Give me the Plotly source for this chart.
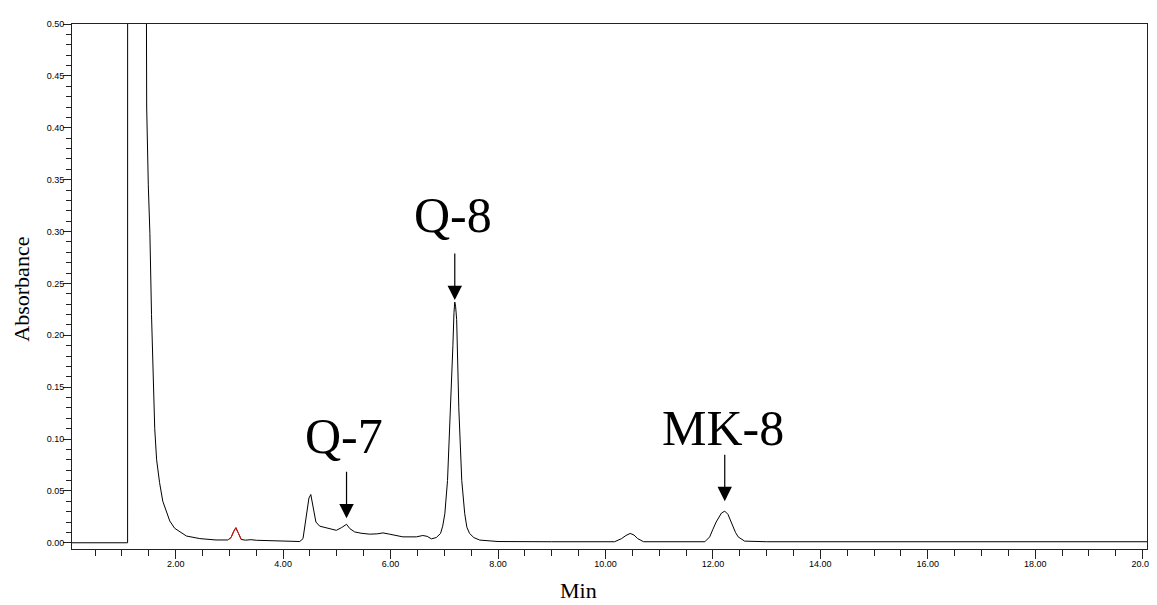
import numpy as np
import plotly.graph_objects as go

# Retention time (min) and absorbance
time_min = [0.07, 1.105, 1.106, 1.45, 1.455, 1.46, 1.49, 1.52, 1.55, 1.58, 1.61, 1.645,
            1.70, 1.76, 1.83, 1.89, 1.98, 2.10, 2.20, 2.45, 2.75, 2.97,
            3.03, 3.08, 3.12, 3.16, 3.20, 3.22,
            3.30, 3.40, 3.50, 3.70, 3.90, 4.10, 4.31, 4.37, 4.44, 4.48, 4.515, 4.56,
            4.61, 4.68, 4.87, 4.99, 5.09, 5.18, 5.24, 5.33, 5.45, 5.61, 5.75, 5.86,
            5.98, 6.10, 6.23, 6.48, 6.60, 6.68, 6.76, 6.85, 6.93, 6.97, 7.01, 7.06,
            7.11, 7.16, 7.18, 7.195, 7.21, 7.23, 7.27, 7.30, 7.325, 7.38, 7.42, 7.47,
            7.55, 7.66, 7.80, 8.00, 9.00, 10.17, 10.30, 10.38, 10.46, 10.53, 10.60,
            10.71, 11.85, 11.94, 12.00, 12.06, 12.16, 12.22, 12.28, 12.33, 12.37,
            12.42, 12.47, 12.59, 13.00, 16.00, 20.08]
absorbance = [0.000, 0.000, 0.900, 0.900, 0.520, 0.420, 0.345, 0.298, 0.220, 0.155, 0.110, 0.080,
              0.058, 0.040, 0.029, 0.021, 0.014, 0.0095, 0.0065, 0.0040, 0.0027, 0.0027,
              0.0050, 0.0110, 0.0145, 0.0100, 0.0045, 0.0032,
              0.0025, 0.0030, 0.0024, 0.0022, 0.0020, 0.0015, 0.0012, 0.0040, 0.0310, 0.0430, 0.0465, 0.0340,
              0.0200, 0.0160, 0.0137, 0.0120, 0.0147, 0.0178, 0.0137, 0.0105, 0.0092, 0.0083, 0.0086, 0.0095,
              0.0083, 0.0070, 0.0057, 0.0057, 0.0070, 0.0062, 0.0038, 0.0050, 0.0090, 0.0160, 0.0280, 0.0600,
              0.1200, 0.1900, 0.2220, 0.2320, 0.2280, 0.2150, 0.1300, 0.0900, 0.0600, 0.0280, 0.0150, 0.0090,
              0.0050, 0.0026, 0.0018, 0.0012, 0.0010, 0.0010, 0.0040, 0.0070, 0.0090, 0.0075, 0.0040,
              0.0010, 0.0010, 0.0057, 0.0130, 0.0200, 0.0287, 0.0305, 0.0274, 0.0210, 0.0153,
              0.0100, 0.0057, 0.0016, 0.0010, 0.0010, 0.0010]

# Integrated impurity peak drawn in red
red_start, red_end = 2.97, 3.22

# Peak labels
peak_labels = ["Q-7", "Q-8", "MK-8"]
peak_times = [5.18, 7.195, 12.22]

x_ticks = [2, 4, 6, 8, 10, 12, 14, 16, 18, 20]
y_ticks = [0.00, 0.05, 0.10, 0.15, 0.20, 0.25, 0.30, 0.35, 0.40, 0.45, 0.50]

t = np.array(time_min)
a = np.array(absorbance)
red_mask = (t >= red_start) & (t <= red_end)

fig = go.Figure()
fig.add_trace(go.Scatter(x=t, y=a, mode="lines",
                         line=dict(color="black", width=1), showlegend=False,
                         hoverinfo="skip"))
fig.add_trace(go.Scatter(x=t[red_mask], y=a[red_mask], mode="lines",
                         line=dict(color="red", width=1), showlegend=False,
                         hoverinfo="skip"))

# arrow / text styling per label (pixel offsets)
standoffs = [6, 2, 10]
arrow_len = [54, 50, 58]
text_shift = [88, 87, 83]
text_xshift = [-3, -2, -2]
for lab, pt, so, al, ts, xs in zip(peak_labels, peak_times, standoffs, arrow_len, text_shift, text_xshift):
    py = float(np.interp(pt, t, a))
    fig.add_annotation(x=pt, y=py, xref="x", yref="y", text="", showarrow=True,
                       ax=0, ay=-al, axref="pixel", ayref="pixel",
                       arrowhead=2, arrowsize=2.4, arrowwidth=1.2, arrowcolor="black",
                       standoff=so)
    fig.add_annotation(x=pt, y=py, xref="x", yref="y", text=lab, showarrow=False,
                       xanchor="center", yanchor="middle", yshift=ts, xshift=xs,
                       font=dict(family="Liberation Serif", size=50, color="black"))

# axis titles
fig.add_annotation(x=0.4707, y=-0.0792, xref="paper", yref="paper", text="Min",
                   showarrow=False, xanchor="center", yanchor="middle",
                   font=dict(family="Liberation Serif", size=22, color="black"))
fig.add_annotation(x=-0.0465, y=0.494, xref="paper", yref="paper", text="Absorbance",
                   showarrow=False, textangle=-90, xanchor="center", yanchor="middle",
                   font=dict(family="Liberation Serif", size=22, color="black"))

# The page body has an 8px margin, so the margins are reduced by 8px to compensate.
fig.update_layout(
    width=1157, height=605,
    margin=dict(l=64, r=18, t=11, b=64),
    paper_bgcolor="white", plot_bgcolor="white",
    xaxis=dict(range=[0.07, 20.08], tickmode="array", tickvals=x_ticks,
               ticktext=[f"{v:.2f}" for v in x_ticks],
               ticks="outside", ticklen=9, tickwidth=1, tickcolor="#222",
               ticklabelstandoff=-3,
               minor=dict(dtick=0.5, tick0=0, ticks="outside", ticklen=6, tickcolor="#222", tickwidth=1),
               showline=True, linecolor="#222", linewidth=1, mirror=True,
               showgrid=False, zeroline=False,
               tickfont=dict(family="Liberation Sans", size=9, color="black")),
    yaxis=dict(range=[-0.006, 0.5], tickmode="array", tickvals=y_ticks,
               ticktext=[f"{v:.2f}" for v in y_ticks],
               ticks="outside", ticklen=8, tickwidth=1, tickcolor="#222",
               ticklabelstandoff=-3,
               minor=dict(dtick=0.01, tick0=0, ticks="outside", ticklen=5, tickcolor="#222", tickwidth=1),
               showline=True, linecolor="#222", linewidth=1, mirror=True,
               showgrid=False, zeroline=False,
               tickfont=dict(family="Liberation Sans", size=9, color="black")),
)

fig.write_html("out.html")
